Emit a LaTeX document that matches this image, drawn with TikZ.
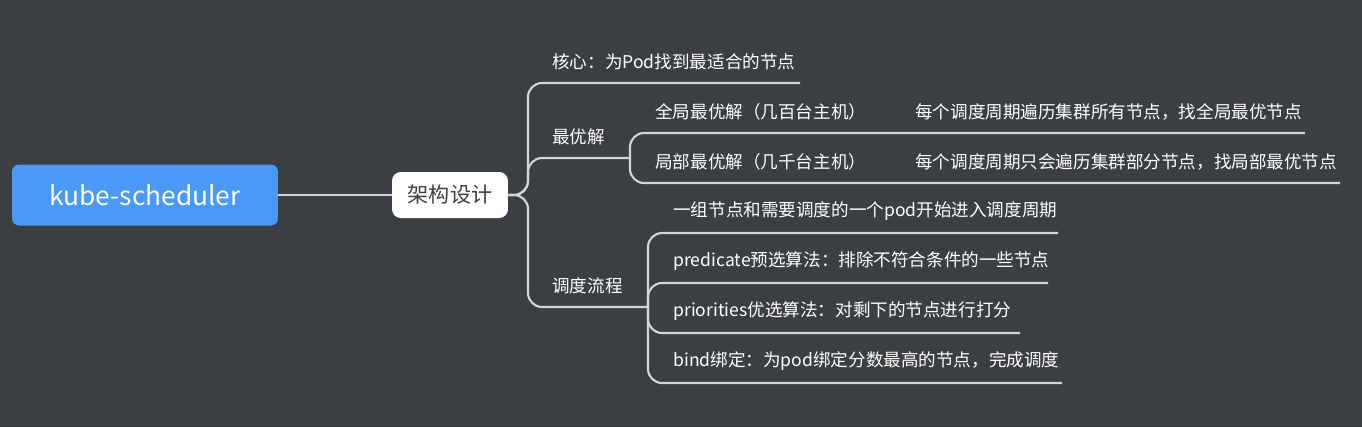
\documentclass[tikz,border=0pt]{standalone}
\usepackage{fontspec}
\setmainfont{Noto Sans CJK SC}
\definecolor{bg}{HTML}{3B3E43}
\definecolor{rootblue}{HTML}{4A98F7}
\definecolor{wire}{HTML}{D4D4D4}
\tikzset{
  lbl/.style={anchor=south west, inner sep=0pt, text=white, font=\fontsize{10}{12}\selectfont, yshift=7pt},
  wireline/.style={draw=wire, line width=1.2pt, rounded corners=8pt}
}
\begin{document}
\begin{tikzpicture}[x=0.02cm, y=-0.02cm]
        % background
        \fill[bg] (0,0) rectangle (1362,427);

        % root and main topic
        \node[fill=rootblue, rounded corners=4pt, minimum width=5.32cm, minimum height=1.22cm, text=white, font=\fontsize{15}{18}\selectfont] (root) at (145,195) {kube-scheduler};
        \node[fill=white, rounded corners=5pt, minimum width=2.32cm, minimum height=0.92cm, text=black!75, font=\fontsize{12}{14}\selectfont] (arch) at (450,195) {架构设计};
        \draw[wireline] (root.east) -- (arch.west);

        % first level
        \node[lbl] (core) at (552,83) {核心：为Pod找到最适合的节点};
        \node[lbl] (best) at (552,158) {最优解};
        \node[lbl] (flow) at (552,307) {调度流程};
        \coordinate (coreend) at (800,83);
        \coordinate (bestend) at (630,158);
        \coordinate (flowend) at (648,307);
        \draw[wireline] (arch.east) -| (528,83) -- (coreend);
        \draw[wireline] (arch.east) -| (528,158) -- (bestend);
        \draw[wireline] (arch.east) -| (528,307) -- (flowend);

        % best solution
        \node[lbl] (glob) at (655,133) {全局最优解（几百台主机）};
        \node[lbl] (loc) at (655,183) {局部最优解（几千台主机）};
        \node[lbl] (globtxt) at (915,133) {每个调度周期遍历集群所有节点，找全局最优节点};
        \node[lbl] (loctxt) at (915,183) {每个调度周期只会遍历集群部分节点，找局部最优节点};
        \coordinate (globend) at (1305,133);
        \coordinate (locend) at (1340,183);
        \draw[wireline] (bestend) |- (globend);
        \draw[wireline] (bestend) |- (locend);

        % schedule flow
        \node[lbl] (s1) at (673,233) {一组节点和需要调度的一个pod开始进入调度周期};
        \node[lbl] (s2) at (673,283) {predicate预选算法：排除不符合条件的一些节点};
        \node[lbl] (s3) at (673,333) {priorities优选算法：对剩下的节点进行打分};
        \node[lbl] (s4) at (673,383) {bind绑定：为pod绑定分数最高的节点，完成调度};
        \coordinate (s1end) at (1058,233);
        \coordinate (s2end) at (1048,283);
        \coordinate (s3end) at (1020,333);
        \coordinate (s4end) at (1062,383);
        \draw[wireline] (flowend) |- (s1end);
        \draw[wireline] (flowend) |- (s2end);
        \draw[wireline] (flowend) |- (s3end);
        \draw[wireline] (flowend) |- (s4end);
    \end{tikzpicture}
\end{document}
